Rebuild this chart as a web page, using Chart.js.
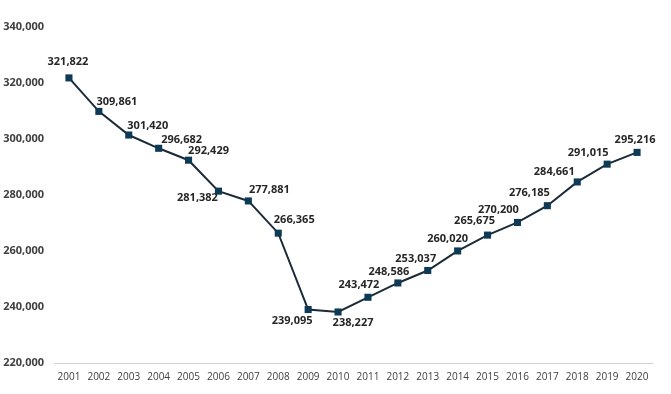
<!DOCTYPE html>
<html>
<head>
<meta charset="utf-8">
<script src="https://cdn.jsdelivr.net/npm/chart.js@4/dist/chart.umd.min.js"></script>
<style>
  html, body { margin: 0; padding: 0; background: #fff; }
  #wrap { width: 671px; height: 394px; position: relative; }
</style>
</head>
<body>
<div id="wrap"><canvas id="c"></canvas></div>
<script>
// data
const years = ['2001','2002','2003','2004','2005','2006','2007','2008','2009','2010',
               '2011','2012','2013','2014','2015','2016','2017','2018','2019','2020'];
const values = [321822, 309861, 301420, 296682, 292429, 281382, 277881, 266365, 239095, 238227,
                243472, 248586, 253037, 260020, 265675, 270200, 276185, 284661, 291015, 295216];
const yTicks = [220000, 240000, 260000, 280000, 300000, 320000, 340000];

// where each value label sits relative to its marker (px)
const labelOffsets = [
  [-1,-16], [18,-10], [19,-9], [23,-8], [20,-9], [-21,7], [21,-11], [16,-13], [-16,11], [15,11],
  [-9,-12], [-9,-11], [-12,-12], [-10,-12], [-13,-14], [-19,-13], [-18,-13], [-23,-10], [-19,-11], [-2,-13]
];

const fmt = v => v.toLocaleString('en-US');

const valueLabels = {
  id: 'valueLabels',
  afterDatasetsDraw(chart) {
    const ctx = chart.ctx;
    const pts = chart.getDatasetMeta(0).data;
    ctx.save();
    ctx.font = 'bold 11px "Open Sans"';
    ctx.fillStyle = '#262626';
    ctx.textAlign = 'center';
    ctx.textBaseline = 'middle';
    pts.forEach((p, i) => {
      const [dx, dy] = labelOffsets[i];
      ctx.fillText(fmt(values[i]), p.x + dx, p.y + dy);
    });
    ctx.restore();
  }
};

new Chart(document.getElementById('c'), {
  type: 'line',
  data: {
    labels: years,
    datasets: [{
      data: values,
      borderColor: '#1c2b38',
      borderWidth: 2,
      pointStyle: 'rect',
      pointRadius: 5,
      pointBackgroundColor: '#0e3a55',
      pointBorderWidth: 0,
      tension: 0
    }]
  },
  options: {
    responsive: true,
    maintainAspectRatio: false,
    animation: false,
    layout: { padding: { top: 27, right: 19, left: 0, bottom: 0 } },
    plugins: { legend: { display: false }, tooltip: { enabled: false } },
    scales: {
      x: {
        offset: true,
        grid: { display: false, drawTicks: false },
        border: { display: true, color: '#d0d0d0', width: 1 },
        ticks: { color: '#404040', font: { family: '"Open Sans"', size: 10 }, padding: 8, maxRotation: 0, autoSkip: false },
        afterFit: s => { s.height = 31; }
      },
      y: {
        min: 220000,
        max: 340000,
        afterBuildTicks: s => { s.ticks = yTicks.map(v => ({ value: v })); },
        grid: { display: false, drawTicks: false },
        border: { display: false },
        ticks: {
          color: '#404040',
          font: { family: '"Open Sans"', size: 11, weight: 'bold' },
          padding: 10,
          callback: v => fmt(v)
        },
        afterFit: s => { s.width = 54; }
      }
    }
  },
  plugins: [valueLabels]
});
</script>
</body>
</html>
